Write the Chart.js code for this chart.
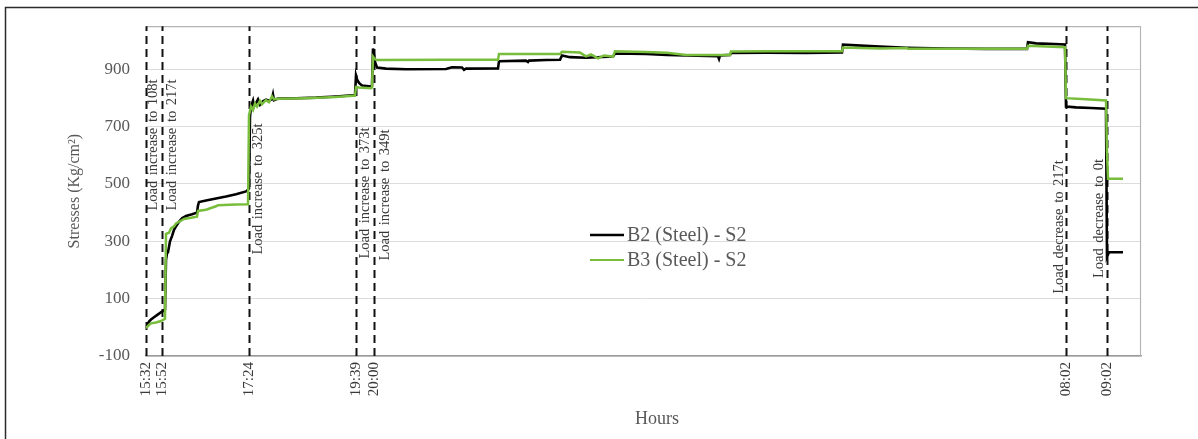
<!DOCTYPE html>
<html>
<head>
<meta charset="utf-8">
<title>Stresses vs hours</title>
<script src="https://cdn.jsdelivr.net/npm/chart.js@4.4.0/dist/chart.umd.min.js"></script>
<style>
  html, body { margin: 0; padding: 0; background: #fff; }
  #wrap { position: relative; width: 1198px; height: 439px; }
  canvas { display: block; }
</style>
</head>
<body>
<div id="wrap"><canvas id="c" width="1198" height="439"></canvas></div>
<script>
// ---- data -------------------------------------------------------------
// x = logger sample index, y = stress in Kg/cm²
const b2Idx = [0,3,5,8,12,16,19,20,21,22,24,26,28,30,33,36,40,46,51,52,53,60,70,80,90,100,102,103,
  104,105,106,107,108,110,112,114,117,120,123,126,127,128,132,150,170,190,209,
  210,211,213,216,225,226,227,228,229,231,240,260,300,306,316,318,320,352,
  353,380,382,383,400,414,416,424,440,467,469,500,521,540,572,573,574,584,
  585,620,660,696,697,710,734,761,800,840,881,882,890,919,920,930,945,960,961,963,977];
const b2Stress = [2,20,27,35,45,55,62,235,258,262,300,318,340,352,368,380,388,394,400,425,437,442,449,456,464,474,480,484,
  735,768,780,790,770,782,795,776,788,794,790,796,812,792,798,799,801,805,810,
  878,865,852,843,840,842,972,950,925,906,902,900,901,907,906,898,902,903,
  928,930,925,930,932,933,948,942,940,944,955,953,950,948,945,936,948,950,
  957,958,957,958,986,983,979,975,972,971,971,994,990,986,770,767,765,762,246,262,262];

const b3Idx = [0,3,5,10,15,19,20,23,25,28,30,34,38,45,51,52,60,70,72,90,102,
  103,105,107,109,111,114,116,120,123,126,128,132,160,190,209,
  210,213,225,226,227,229,231,300,352,353,414,416,434,440,445,452,458,467,
  469,500,521,540,584,585,620,696,697,734,761,762,881,882,919,920,940,960,961,962,977];
const b3Stress = [-3,8,14,17,22,30,326,330,345,352,362,370,378,382,386,406,410,422,426,428,429,
  740,770,758,780,770,790,778,792,785,806,795,797,799,803,808,
  838,836,834,836,944,935,932,933,933,953,953,961,958,945,952,938,948,944,
  963,960,957,950,950,962,963,963,976,972,974,971,971,982,977,799,795,791,611,518,518];

// time stamps of the load events (sample index) and their labels
const markerIdx = [0, 16, 103, 210, 228, 920, 961];
const markerLabels = ['15:32', '15:52', '17:24', '19:39', '20:00', '08:02', '09:02'];
const eventNotes = ['Load increase to 108t', 'Load increase to 217t', 'Load increase to 325t',
  'Load increase to 373t', 'Load increase to 349t', 'Load decrease to 217t', 'Load decrease to 0t'];

const yTicks = [-100, 100, 300, 500, 700, 900];
const seriesNames = ['B2 (Steel) - S2', 'B3 (Steel) - S2'];

// ---- styling / placement ------------------------------------------------
const SERIF = '"Liberation Serif", "Times New Roman", serif';
const GREEN = '#78bd3c';
const GREY_TXT = '#595959';
// horizontal offset from the event line, vertical centre (px) of each note
const notePlace = [[7, 145], [10.5, 145], [9, 189], [9, 193], [11, 195], [-7, 227], [-8, 218.5]];

const toPts = (xs, ys) => xs.map((x, i) => ({ x: x, y: ys[i] }));

const decorations = {
  id: 'decorations',
  beforeDraw(chart) {
    const ctx = chart.ctx;
    ctx.save();
    // outer figure frame
    ctx.strokeStyle = '#2b2b2b';
    ctx.lineWidth = 1.5;
    ctx.beginPath();
    ctx.moveTo(5.5, 439);
    ctx.lineTo(5.5, 7.5);
    ctx.lineTo(1198, 7.5);
    ctx.stroke();
    ctx.restore();
  },
  beforeDatasetsDraw(chart) {
    const { ctx, chartArea: a, scales: { x } } = chart;
    ctx.save();
    // plot area border (top and right)
    ctx.strokeStyle = '#b5b5b5';
    ctx.lineWidth = 1.2;
    ctx.beginPath();
    ctx.moveTo(a.left, a.top + 0.5);
    ctx.lineTo(a.right - 0.5, a.top + 0.5);
    ctx.lineTo(a.right - 0.5, a.bottom);
    ctx.stroke();

    // dashed event lines
    ctx.strokeStyle = '#111';
    ctx.lineWidth = 2;
    ctx.setLineDash([8, 5]);
    markerIdx.forEach(m => {
      const px = Math.round(x.getPixelForValue(m)) + 0.5;
      ctx.beginPath();
      ctx.moveTo(px, a.bottom);
      ctx.lineTo(px, a.top);
      ctx.stroke();
    });
    ctx.setLineDash([]);

    // event notes, read bottom to top
    ctx.fillStyle = '#383838';
    ctx.font = '14.5px ' + SERIF;
    ctx.textAlign = 'center';
    ctx.textBaseline = 'middle';
    if ('wordSpacing' in ctx) ctx.wordSpacing = '2px';
    eventNotes.forEach((t, i) => {
      const px = x.getPixelForValue(markerIdx[i]) + notePlace[i][0];
      ctx.save();
      ctx.translate(px, notePlace[i][1]);
      ctx.rotate(-Math.PI / 2);
      ctx.fillText(t, 0, 0);
      ctx.restore();
    });
    ctx.restore();
  },
  afterDraw(chart) {
    const ctx = chart.ctx;
    ctx.save();
    // legend inside the plot
    const rows = [[235, '#000', 2.5], [260, GREEN, 2]];
    ctx.font = '20px ' + SERIF;
    ctx.textBaseline = 'middle';
    ctx.textAlign = 'left';
    rows.forEach((r, i) => {
      ctx.strokeStyle = r[1];
      ctx.lineWidth = r[2];
      ctx.beginPath();
      ctx.moveTo(590, r[0]);
      ctx.lineTo(624, r[0]);
      ctx.stroke();
      ctx.fillStyle = GREY_TXT;
      ctx.fillText(seriesNames[i], 627, r[0] + 1);
    });
    // x axis title
    ctx.font = '18px ' + SERIF;
    ctx.textAlign = 'center';
    ctx.fillText('Hours', 657, 419);
    ctx.restore();
  }
};

new Chart(document.getElementById('c'), {
  type: 'line',
  data: {
    datasets: [
      { label: seriesNames[0], data: toPts(b2Idx, b2Stress), borderColor: '#000', borderWidth: 2.6,
        pointRadius: 0, tension: 0, fill: false, order: 1 },
      { label: seriesNames[1], data: toPts(b3Idx, b3Stress), borderColor: GREEN, borderWidth: 2.5,
        pointRadius: 0, tension: 0, fill: false, order: 0 }
    ]
  },
  options: {
    responsive: false,
    animation: false,
    devicePixelRatio: 1,
    layout: { padding: { left: 61, right: 57, top: 25, bottom: 0 } },
    plugins: { legend: { display: false }, tooltip: { enabled: false } },
    scales: {
      x: {
        type: 'linear',
        min: 0,
        max: 995,
        afterBuildTicks: s => { s.ticks = markerIdx.map(v => ({ value: v })); },
        afterFit: s => { s.height = 83; },
        grid: { display: false, drawTicks: false },
        border: { display: true, color: '#9a9a9a', width: 1.5 },
        ticks: {
          autoSkip: false,
          minRotation: 90,
          maxRotation: 90,
          padding: 6,
          color: '#3a3a3a',
          font: { family: SERIF, size: 15 },
          callback: (v) => { const k = markerIdx.indexOf(v); return k >= 0 ? markerLabels[k] : ''; }
        }
      },
      y: {
        type: 'linear',
        min: -100,
        max: 1050,
        afterBuildTicks: s => { s.ticks = yTicks.map(v => ({ value: v })); },
        afterFit: s => { s.width = 85; },
        grid: { color: '#dcdcdc', lineWidth: 1, drawTicks: false },
        border: { display: false },
        ticks: {
          padding: 16,
          color: GREY_TXT,
          font: { family: SERIF, size: 17 }
        },
        title: {
          display: true,
          text: 'Stresses (Kg/cm²)',
          color: GREY_TXT,
          font: { family: SERIF, size: 16 },
          padding: { top: 4, bottom: 4 }
        }
      }
    }
  },
  plugins: [decorations]
});
</script>
</body>
</html>
